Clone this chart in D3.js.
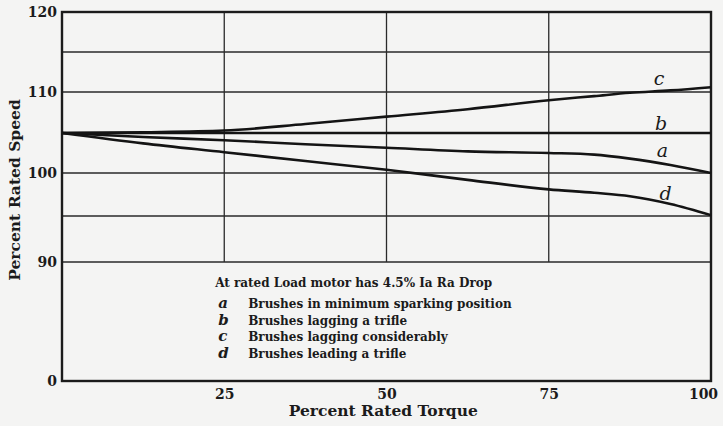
<!DOCTYPE html>
<html>
<head>
<meta charset="utf-8">
<script src="https://cdn.jsdelivr.net/npm/d3@7"></script>
<style>
  body { margin: 0; background: #f4f4f3; }
  svg { display: block; }
  text { fill: #1b1b1b; font-family: "DejaVu Serif", serif; }
</style>
</head>
<body>
<div id="chart-area"></div>
<script>
// data
const torque = [0, 12.5, 25, 37.5, 50, 62.5, 75, 82, 87.5, 93.75, 100]
const speedA = [105, 104.5, 104.1, 103.6, 103.15, 102.7, 102.5, 102.3, 101.8, 101.0, 100]
const speedB = [105, 105, 105, 105, 105, 105, 105, 105, 105, 105, 105]
const speedC = [105, 105.1, 105.3, 106.1, 107.0, 107.9, 109.0, 109.5, 109.9, 110.2, 110.6]
const speedD = [105, 103.7, 102.6, 101.5, 100.4, 99.2, 98.1, 97.7, 97.3, 96.4, 95.1]
const curveNames = ["a", "b", "c", "d"]
const labelPos = [[92.5, 102.0], [92.3, 105.4], [92.0, 110.9], [93.0, 96.9]]
const xTicks = [25, 50, 75, 100]
const yTicks = [0, 90, 100, 110, 120]
const yGrid = [90, 95, 100, 105, 110, 115]
const legendTitle = "At rated Load motor has 4.5% Ia Ra Drop"
const legendItems = [
  "Brushes in minimum sparking position",
  "Brushes lagging a trifle",
  "Brushes lagging considerably",
  "Brushes leading a trifle"
]

const MARGIN = { LEFT: 62, RIGHT: 12, TOP: 12, BOTTOM: 45 }
const WIDTH = 723 - MARGIN.LEFT - MARGIN.RIGHT
const HEIGHT = 426 - MARGIN.TOP - MARGIN.BOTTOM

const svg = d3.select("#chart-area").append("svg")
  .attr("width", 723)
  .attr("height", 426)

const g = svg.append("g")
  .attr("transform", `translate(${MARGIN.LEFT}, ${MARGIN.TOP})`)

// scales (the printed y axis is broken below 90)
const x = d3.scaleLinear()
  .domain([0, 100])
  .range([0, WIDTH])

const y = d3.scaleLinear()
  .domain([0, 90, 95, 100, 105, 110, 115, 120])
  .range([HEIGHT, 250, 204, 161, 121, 80, 40, 0])

// grid
g.append("g")
  .selectAll("line")
  .data(yGrid)
  .join("line")
    .attr("x1", 0).attr("x2", WIDTH)
    .attr("y1", d => y(d)).attr("y2", d => y(d))
    .attr("stroke", "#2a2a2a")
    .attr("stroke-width", 1.3)

g.append("g")
  .selectAll("line")
  .data(xTicks.slice(0, -1))
  .join("line")
    .attr("x1", d => x(d)).attr("x2", d => x(d))
    .attr("y1", 0).attr("y2", y(90))
    .attr("stroke", "#2a2a2a")
    .attr("stroke-width", 1.3)

// axes
const xAxisCall = d3.axisBottom(x)
  .tickValues(xTicks)
  .tickSize(0)
  .tickPadding(8)
g.append("g")
  .attr("transform", `translate(0, ${HEIGHT})`)
  .call(xAxisCall)
  .call(a => a.select(".domain").remove())
  .selectAll(".tick text")
    .attr("font-family", "DejaVu Serif")
    .attr("font-weight", "bold")
    .style("font-size", "14px")
    .attr("dx", d => d === 100 ? -8 : 0)

const yAxisCall = d3.axisLeft(y)
  .tickValues(yTicks)
  .tickSize(0)
  .tickPadding(5)
g.append("g")
  .call(yAxisCall)
  .call(a => a.select(".domain").remove())
  .selectAll(".tick text")
    .attr("font-family", "DejaVu Serif")
    .attr("font-weight", "bold")
    .style("font-size", "14px")

// frame
g.append("rect")
  .attr("width", WIDTH)
  .attr("height", HEIGHT)
  .attr("fill", "none")
  .attr("stroke", "#1b1b1b")
  .attr("stroke-width", 2.4)

// curves
const series = [speedA, speedB, speedC, speedD]
const line = d3.line()
  .x((d, i) => x(torque[i]))
  .y(d => y(d))
  .curve(d3.curveMonotoneX)

g.append("g")
  .selectAll("path")
  .data(series)
  .join("path")
    .attr("d", line)
    .attr("fill", "none")
    .attr("stroke", "#141414")
    .attr("stroke-width", 2.6)

g.append("g")
  .selectAll("text")
  .data(curveNames)
  .join("text")
    .attr("x", (d, i) => x(labelPos[i][0]))
    .attr("y", (d, i) => y(labelPos[i][1]))
    .attr("text-anchor", "middle")
    .attr("font-family", "Liberation Serif")
    .attr("font-style", "italic")
    .style("font-size", "19px")
    .text(d => d)

// legend
const legend = g.append("g")
  .attr("transform", `translate(${x(23.6)}, ${y(90) + 25})`)

legend.append("text")
  .attr("x", 0)
  .attr("y", 0)
  .attr("font-weight", "bold")
  .style("font-size", "12px")
  .text(legendTitle)

legendItems.forEach((t, i) => {
  legend.append("text")
    .attr("x", 3)
    .attr("y", 21 + i * 16.5)
    .attr("font-family", "Liberation Serif")
    .attr("font-style", "italic")
    .attr("font-weight", "bold")
    .style("font-size", "15px")
    .text(curveNames[i])
  legend.append("text")
    .attr("x", 33)
    .attr("y", 21 + i * 16.5)
    .attr("font-weight", "bold")
    .style("font-size", "12px")
    .text(t)
})

// axis labels
g.append("text")
  .attr("x", x(49.5))
  .attr("y", HEIGHT + 35)
  .attr("text-anchor", "middle")
  .attr("font-family", "Liberation Serif")
  .attr("font-weight", "bold")
  .style("font-size", "15.5px")
  .text("Percent Rated Torque")

g.append("text")
  .attr("transform", "rotate(-90)")
  .attr("x", -178)
  .attr("y", -42)
  .attr("text-anchor", "middle")
  .attr("font-family", "Liberation Serif")
  .attr("font-weight", "bold")
  .style("font-size", "15.5px")
  .text("Percent Rated Speed")
</script>
</body>
</html>
